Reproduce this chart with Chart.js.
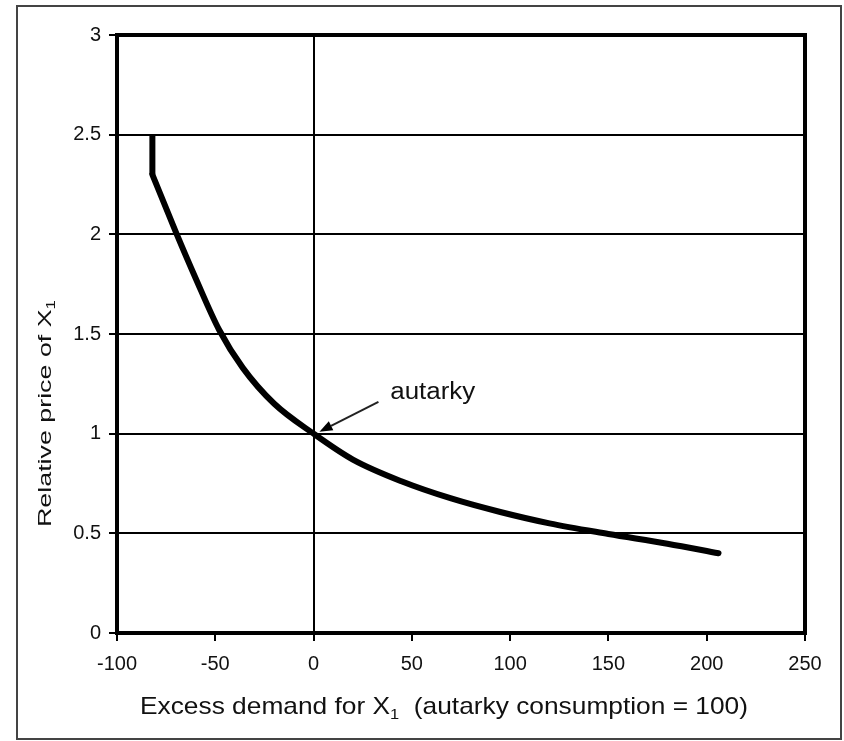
<!DOCTYPE html>
<html>
<head>
<meta charset="utf-8">
<script src="https://cdn.jsdelivr.net/npm/chart.js@4.4.1/dist/chart.umd.min.js"></script>
<style>
  html, body { margin: 0; padding: 0; background: #fff; }
  #wrap { position: relative; width: 844px; height: 741px; }
</style>
</head>
<body>
<div id="wrap"><canvas id="c"></canvas></div>
<script>
// ---- Data ----
// Vertical segment at the upper end of the excess-demand curve
const stemX = [-82, -82];
const stemY = [2.5, 2.3];
// Excess demand curve (excess demand for X1, relative price of X1)
const curveX = [-82, -70, -60, -48, -36, -20, 0, 20, 45, 70, 95, 120, 150, 180, 206];
const curveY = [2.3, 2.01, 1.78, 1.52, 1.33, 1.15, 1.0, 0.87, 0.76, 0.675, 0.607, 0.55, 0.497, 0.448, 0.40];
// Tick labels
const xTickLabels = ['-100', '-50', '0', '50', '100', '150', '200', '250'];
const yTickLabels = ['0', '0.5', '1', '1.5', '2', '2.5', '3'];
// Annotation
const annText = 'autarky';
const annTextAt = [39, 1.175];
const annArrowFrom = [33, 1.16];
const annArrowTo = [3, 1.01];

const toPts = (xs, ys) => xs.map((x, i) => ({ x: x, y: ys[i] }));

function drawFitText(ctx, text, x, y, font, targetW) {
  ctx.font = font;
  const w = ctx.measureText(text).width;
  const sx = targetW ? targetW / w : 1;
  ctx.save();
  ctx.translate(x, y);
  ctx.scale(sx, 1);
  ctx.fillText(text, 0, 0);
  ctx.restore();
  return w * sx;
}

const decor = {
  id: 'decor',
  afterDraw(chart) {
    const ctx = chart.ctx;
    const a = chart.chartArea;
    const xs = chart.scales.x, ys = chart.scales.y;
    ctx.save();
    // outer frame
    ctx.strokeStyle = '#444';
    ctx.lineWidth = 2;
    ctx.strokeRect(17, 6, 824, 733);
    // plot frame
    ctx.strokeStyle = '#000';
    ctx.lineWidth = 4;
    ctx.strokeRect(a.left, a.top, a.right - a.left, a.bottom - a.top);

    ctx.fillStyle = '#111';
    ctx.textBaseline = 'alphabetic';
    ctx.textAlign = 'left';
    const F = 'Liberation Sans, Arial, sans-serif';

    // x axis title
    {
      const main = 'Excess demand for X';
      const rest = '  (autarky consumption = 100)';
      ctx.font = '24px ' + F;
      const w1 = ctx.measureText(main).width;
      ctx.font = '15px ' + F;
      const ws = ctx.measureText('1').width;
      ctx.font = '24px ' + F;
      const w2 = ctx.measureText(rest).width;
      const total = w1 + ws + w2;
      const sx = 608 / total;
      ctx.save();
      ctx.translate(140, 714);
      ctx.scale(sx, 1);
      ctx.font = '24px ' + F;
      ctx.fillText(main, 0, 0);
      ctx.font = '15px ' + F;
      ctx.fillText('1', w1, 5);
      ctx.font = '24px ' + F;
      ctx.fillText(rest, w1 + ws, 0);
      ctx.restore();
    }
    // y axis title (rotated)
    {
      const main = 'Relative price of X';
      ctx.font = '19px ' + F;
      const w1 = ctx.measureText(main).width;
      ctx.font = '12px ' + F;
      const ws = ctx.measureText('1').width;
      const total = w1 + ws;
      const sx = 227 / total;
      ctx.save();
      ctx.translate(51, 527);
      ctx.rotate(-Math.PI / 2);
      ctx.scale(sx, 1);
      ctx.font = '19px ' + F;
      ctx.fillText(main, 0, 0);
      ctx.font = '12px ' + F;
      ctx.fillText('1', w1, 4);
      ctx.restore();
    }
    // annotation
    {
      const tx = xs.getPixelForValue(annTextAt[0]);
      const ty = ys.getPixelForValue(annTextAt[1]);
      ctx.fillStyle = '#111';
      drawFitText(ctx, annText, tx, ty, '23px ' + F, 85);
      const x1 = xs.getPixelForValue(annArrowFrom[0]);
      const y1 = ys.getPixelForValue(annArrowFrom[1]);
      const x2 = xs.getPixelForValue(annArrowTo[0]);
      const y2 = ys.getPixelForValue(annArrowTo[1]);
      const ang = Math.atan2(y2 - y1, x2 - x1);
      const hl = 13, hw = 5;
      const bx = x2 - hl * Math.cos(ang), by = y2 - hl * Math.sin(ang);
      ctx.strokeStyle = '#222';
      ctx.lineWidth = 2;
      ctx.beginPath();
      ctx.moveTo(x1, y1);
      ctx.lineTo(bx, by);
      ctx.stroke();
      ctx.fillStyle = '#000';
      ctx.beginPath();
      ctx.moveTo(x2, y2);
      ctx.lineTo(bx + hw * Math.sin(ang), by - hw * Math.cos(ang));
      ctx.lineTo(bx - hw * Math.sin(ang), by + hw * Math.cos(ang));
      ctx.closePath();
      ctx.fill();
    }
    ctx.restore();
  }
};

new Chart(document.getElementById('c'), {
  type: 'scatter',
  data: {
    datasets: [
      {
        data: toPts(stemX, stemY),
        showLine: true,
        borderColor: '#000',
        borderWidth: 6,
        pointRadius: 0,
        borderCapStyle: 'butt'
      },
      {
        data: toPts(curveX, curveY),
        showLine: true,
        borderColor: '#000',
        borderWidth: 6,
        pointRadius: 0,
        cubicInterpolationMode: 'monotone',
        borderCapStyle: 'round',
        borderJoinStyle: 'round'
      }
    ]
  },
  options: {
    responsive: true,
    maintainAspectRatio: false,
    animation: false,
    devicePixelRatio: 1,
    layout: { padding: { left: 0, top: 35, right: 39, bottom: 0 } },
    plugins: { legend: { display: false }, tooltip: { enabled: false } },
    scales: {
      x: {
        type: 'linear',
        min: -100, max: 250,
        afterFit(s) { s.height = 108; },
        border: { display: false },
        grid: {
          color: (c) => (c.tick && c.tick.value === 0 ? '#000' : 'rgba(0,0,0,0)'),
          tickColor: '#000',
          lineWidth: 2,
          tickLength: 8,
          drawTicks: true
        },
        ticks: {
          stepSize: 50,
          color: '#111',
          padding: 11,
          maxRotation: 0,
          font: { family: 'Liberation Sans, Arial, sans-serif', size: 20 },
          callback: (v, i) => xTickLabels[i]
        }
      },
      y: {
        type: 'linear',
        min: 0, max: 3,
        afterFit(s) { s.width = 117; },
        border: { display: false },
        grid: {
          color: '#000',
          tickColor: '#000',
          lineWidth: 2,
          tickLength: 8,
          drawTicks: true
        },
        ticks: {
          stepSize: 0.5,
          color: '#111',
          padding: 8,
          font: { family: 'Liberation Sans, Arial, sans-serif', size: 20 },
          callback: (v, i) => yTickLabels[i]
        }
      }
    }
  },
  plugins: [decor]
});
</script>
</body>
</html>
